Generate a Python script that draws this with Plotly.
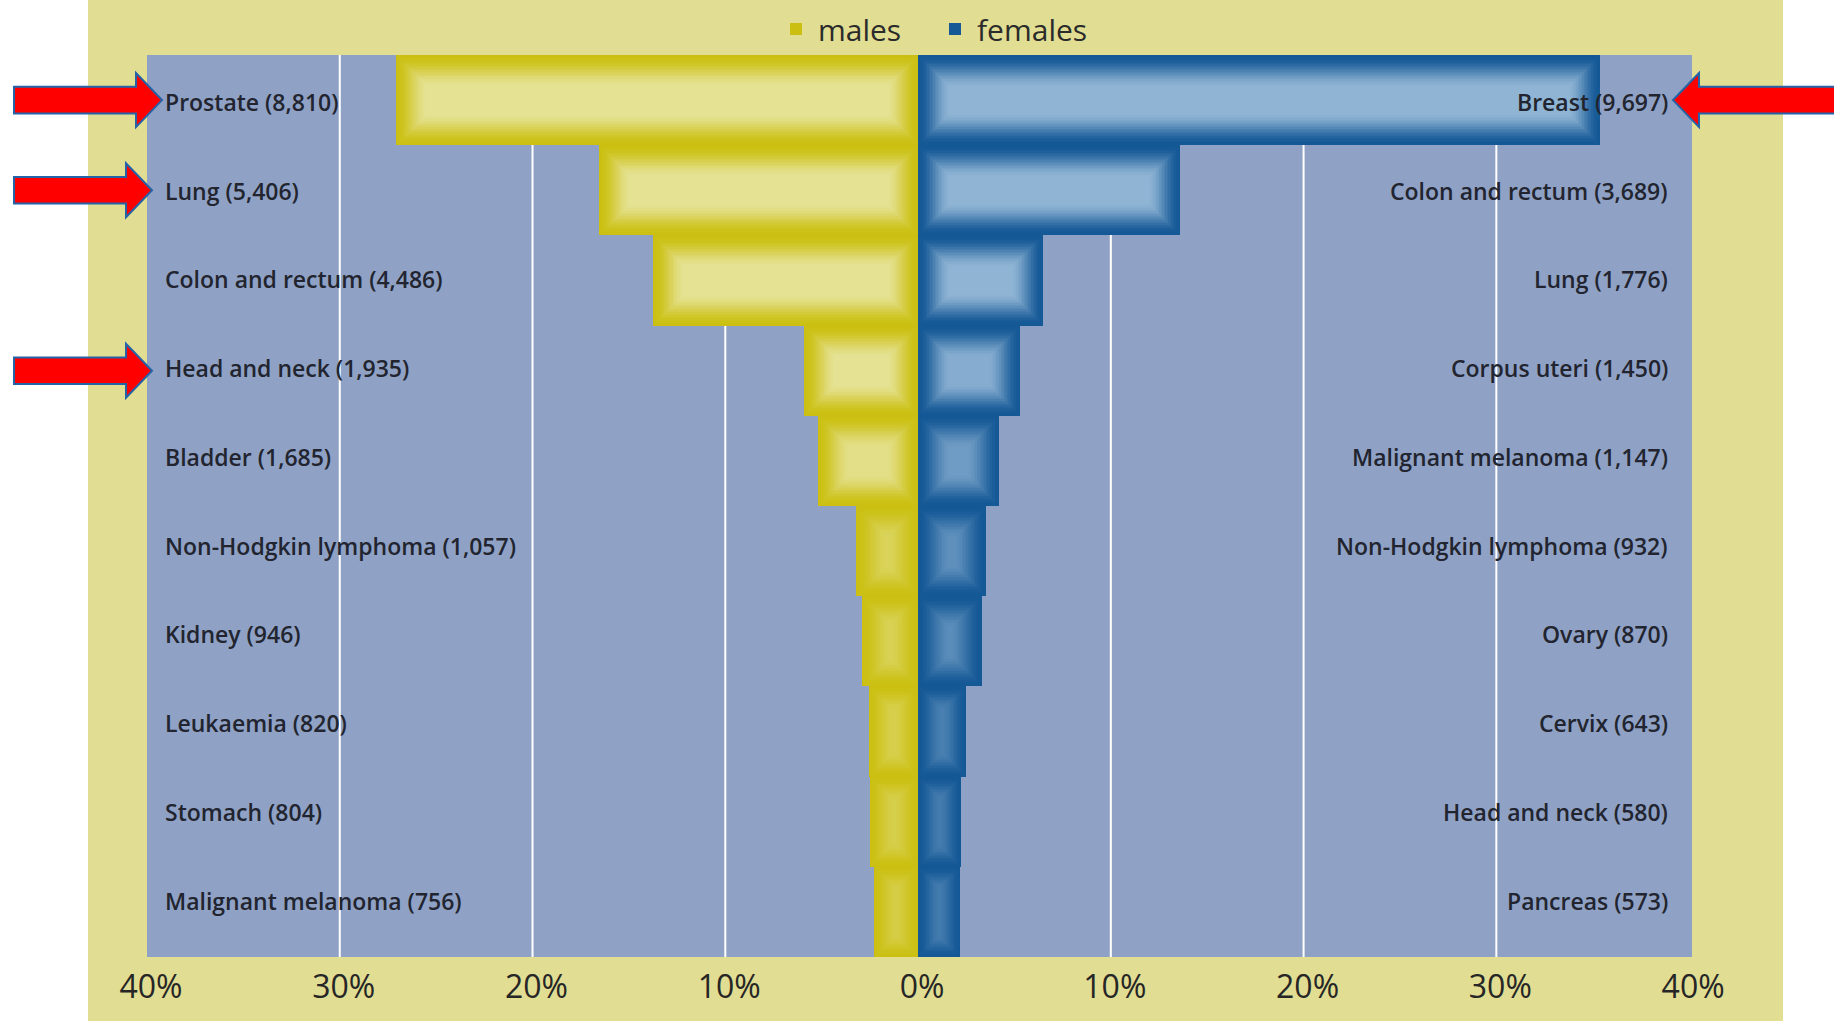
import plotly.graph_objects as go

# ---------------- data ----------------
male_labels = ["Prostate (8,810)", "Lung (5,406)", "Colon and rectum (4,486)",
               "Head and neck (1,935)", "Bladder (1,685)", "Non-Hodgkin lymphoma (1,057)",
               "Kidney (946)", "Leukaemia (820)", "Stomach (804)", "Malignant melanoma (756)"]
male_pct = [27.1, 16.55, 13.75, 5.9, 5.2, 3.2, 2.9, 2.55, 2.5, 2.3]

female_labels = ["Breast (9,697)", "Colon and rectum (3,689)", "Lung (1,776)",
                 "Corpus uteri (1,450)", "Malignant melanoma (1,147)", "Non-Hodgkin lymphoma (932)",
                 "Ovary (870)", "Cervix (643)", "Head and neck (580)", "Pancreas (573)"]
female_pct = [35.4, 13.6, 6.5, 5.3, 4.2, 3.5, 3.3, 2.5, 2.25, 2.2]

tick_vals = [-40, -30, -20, -10, 0, 10, 20, 30, 40]
tick_text = ["40%", "30%", "20%", "10%", "0%", "10%", "20%", "30%", "40%"]
grid_vals = [-30, -20, -10, 10, 20, 30]

series_names = ["males", "females"]
highlight_left_rows = [0, 1, 3]   # arrows pointing at male rows
highlight_right_rows = [0]        # arrows pointing at female rows

# ---------------- style / layout ----------------
W, H = 1834, 1021
ML, MR, MT, MB = 147, 142, 55, 64
PW, PH = W - ML - MR, H - MT - MB
X_RANGE = [-40, 40.15]
PX_PER_PCT = PW / (X_RANGE[1] - X_RANGE[0])
N_ROWS = len(male_pct)
PX_PER_ROW = PH / N_ROWS

BEIGE = "#e1dd92"
PLOT_BG = "#8fa2c6"
MALE_EDGE, MALE_CENTER = (203, 192, 18), (229, 226, 148)
FEMALE_EDGE, FEMALE_CENTER = (20, 88, 150), (143, 180, 212)
TEXT = "#22252f"
FONT = "Open Sans"


def mix(a, b, f):
    return "rgb(%d,%d,%d)" % tuple(round(a[i] + (b[i] - a[i]) * f) for i in range(3))


def px2paper(px):
    return (px - ML) / PW


def smooth(t):
    t = max(0.0, min(1.0, t))
    return t * t * (3 - 2 * t)


rows = list(range(N_ROWS))
fig = go.Figure()

# soft "glow" fill: stacked, progressively inset copies of each bar
insets = [k * 1.5 for k in range(23)]
for name, vals, sign, edge, center in [
    (series_names[0], male_pct, -1, MALE_EDGE, MALE_CENTER),
    (series_names[1], female_pct, 1, FEMALE_EDGE, FEMALE_CENTER),
]:
    half_px = [v * PX_PER_PCT / 2 for v in vals]
    peak = [min(1.0, hw / 55.0) for hw in half_px]
    reach = [min(32.0, hw) for hw in half_px]
    for k, ins in enumerate(insets):
        dx = ins / PX_PER_PCT
        dy = ins / PX_PER_ROW
        lengths = [sign * (v - 2 * dx) if v - 2 * dx > 0 else None for v in vals]
        cols = [mix(edge, center, p * smooth(ins / rc)) for p, rc in zip(peak, reach)]
        fig.add_trace(go.Bar(
            y=rows, x=lengths, base=sign * dx, orientation="h",
            width=1 - 2 * dy,
            marker=dict(color=cols if k > 0 else mix(edge, edge, 0), line=dict(width=0)),
            name=name, legendgroup=name, showlegend=(k == 0),
            hoverinfo="skip",
        ))

# category labels
annotations = []
label_y = [r + (1.75 - 1.45 * r) / PX_PER_ROW for r in rows]
for y, lab in zip(label_y, male_labels):
    annotations.append(dict(x=-39.17, y=y, xref="x", yref="y", text=lab, showarrow=False,
                            xanchor="left", yanchor="middle",
                            font=dict(family=FONT, size=23, color=TEXT, weight=600)))
for y, lab in zip(label_y, female_labels):
    annotations.append(dict(x=39.0, y=y, xref="x", yref="y", text=lab, showarrow=False,
                            xanchor="right", yanchor="middle",
                            font=dict(family=FONT, size=23, color=TEXT, weight=600)))

shapes = []
# white page margins outside the beige panel
shapes.append(dict(type="rect", xref="paper", yref="paper", x0=-0.2, x1=px2paper(88),
                   y0=-0.2, y1=1.2, fillcolor="white", line=dict(width=0), layer="below"))
shapes.append(dict(type="rect", xref="paper", yref="paper", x0=px2paper(1783), x1=1.2,
                   y0=-0.2, y1=1.2, fillcolor="white", line=dict(width=0), layer="below"))
# grid lines
for g in grid_vals:
    shapes.append(dict(type="line", xref="x", yref="paper", x0=g, x1=g, y0=0, y1=1,
                       line=dict(color="white", width=2), layer="below"))


def arrow_path(tail_px, base_px, tip_px, row):
    sh = 13.3 / PX_PER_ROW
    hh = 27.0 / PX_PER_ROW
    xt, xb, xp = px2paper(tail_px), px2paper(base_px), px2paper(tip_px)
    pts = [(xt, row - sh), (xb, row - sh), (xb, row - hh), (xp, row),
           (xb, row + hh), (xb, row + sh), (xt, row + sh)]
    return "M " + " L ".join("%.5f,%.5f" % p for p in pts) + " Z"


left_tips = [162, 152, 152]
for r, tip in zip(highlight_left_rows, left_tips):
    shapes.append(dict(type="path", xref="paper", yref="y", path=arrow_path(14, tip - 26, tip, r),
                       fillcolor="#ff0000", line=dict(color="#2563a8", width=2), layer="above"))
for r in highlight_right_rows:
    shapes.append(dict(type="path", xref="paper", yref="y", path=arrow_path(1850, 1699, 1673, r),
                       fillcolor="#ff0000", line=dict(color="#2563a8", width=2), layer="above"))

fig.update_layout(
    width=W, height=H,
    margin=dict(l=ML, r=MR, t=MT, b=MB, pad=0, autoexpand=False),
    paper_bgcolor=BEIGE, plot_bgcolor=PLOT_BG,
    barmode="overlay", bargap=0,
    showlegend=True,
    legend=dict(orientation="h", x=px2paper(774), xanchor="left",
                y=(PH + MT - 29) / PH, yanchor="middle",
                entrywidth=110, entrywidthmode="pixels", itemwidth=34,
                font=dict(family=FONT, size=30, color="#2b2b2b"),
                bgcolor="rgba(0,0,0,0)", itemclick=False, itemdoubleclick=False),
    xaxis=dict(range=X_RANGE, tickvals=tick_vals, ticktext=tick_text, showgrid=False,
               zeroline=False, showline=False, ticks="", fixedrange=True,
               ticklabelstandoff=8, ticklabelshift=4,
               tickfont=dict(family=FONT, size=32, color="#262626")),
    yaxis=dict(range=[N_ROWS - 0.5, -0.5], showticklabels=False, showgrid=False,
               zeroline=False, showline=False, ticks="", fixedrange=True),
    annotations=annotations, shapes=shapes,
)

fig.write_html("out.html", config={"displayModeBar": False},
               post_script="document.body.style.margin='0';")
